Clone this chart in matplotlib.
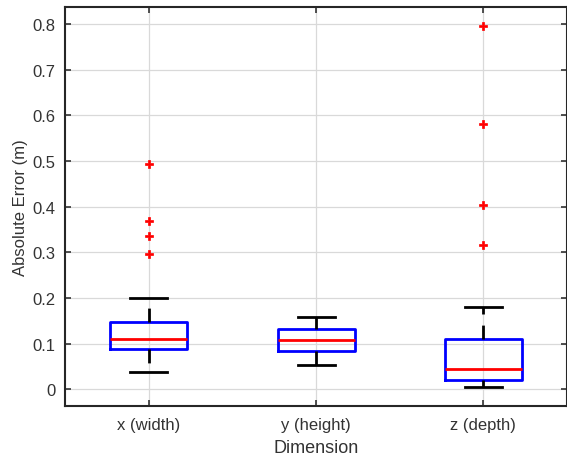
import matplotlib
matplotlib.use("Agg")
import matplotlib.pyplot as plt

plt.rcParams['font.family'] = ['Liberation Sans', 'DejaVu Sans']

labels = ["x (width)", "y (height)", "z (depth)"]
q1 = [0.089, 0.083, 0.020]
med = [0.110, 0.107, 0.045]
q3 = [0.147, 0.133, 0.109]
whislo = [0.037, 0.054, 0.004]
whishi = [0.199, 0.159, 0.180]
outliers = [
    [0.493, 0.369, 0.336, 0.296],
    [],
    [0.797, 0.581, 0.404, 0.316],
]

stats = []
for i in range(len(labels)):
    stats.append({"label": labels[i], "q1": q1[i], "med": med[i], "q3": q3[i],
                  "whislo": whislo[i], "whishi": whishi[i], "fliers": outliers[i]})

fig = plt.figure(figsize=(5.67, 4.6), dpi=100)
ax = fig.add_axes([0.115, 0.115, 0.885, 0.868])

ax.bxp(stats, widths=0.46, showfliers=True,
       boxprops=dict(color="#0000ff", linewidth=2),
       medianprops=dict(color="#ff0000", linewidth=2),
       whiskerprops=dict(color="black", linewidth=2, linestyle=(0, (5, 4))),
       capprops=dict(color="black", linewidth=2),
       flierprops=dict(marker="P", markerfacecolor="#ff0000", markeredgecolor="#ff0000",
                       markersize=6, markeredgewidth=0.5),
       capwidths=0.22)

ax.set_xlim(0.5, 3.5)
ax.set_ylim(-0.037, 0.838)
ax.set_yticks([0, 0.1, 0.2, 0.3, 0.4, 0.5, 0.6, 0.7, 0.8])
ax.set_yticklabels(["0", "0.1", "0.2", "0.3", "0.4", "0.5", "0.6", "0.7", "0.8"])
ax.grid(True, color="#d9d9d9", linewidth=0.9)
ax.set_axisbelow(True)
ax.tick_params(direction="in", top=True, right=True, length=4, width=1.2,
               labelsize=12, colors="#333333")
ax.tick_params(axis="x", pad=8)
ax.tick_params(axis="y", pad=7)
for s in ax.spines.values():
    s.set_linewidth(1.5)
    s.set_color("#262626")

ax.set_xlabel("Dimension", fontsize=13, color="#333333", labelpad=5)
ax.set_ylabel("Absolute Error (m)", fontsize=12, color="#333333", labelpad=3)

fig.savefig("out.png", dpi=100)
